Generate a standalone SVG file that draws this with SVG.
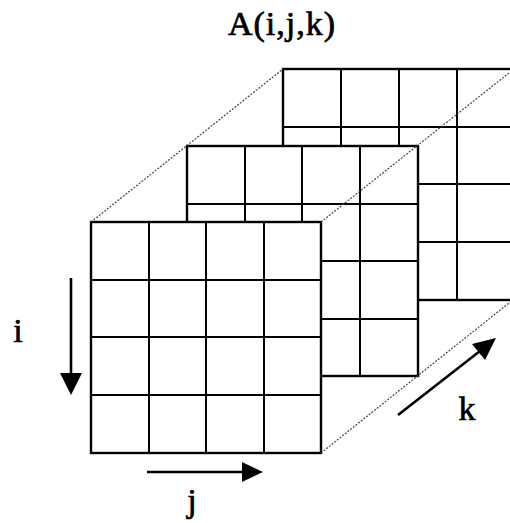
<svg xmlns="http://www.w3.org/2000/svg" width="510" height="523" viewBox="0 0 510 523">
<style>
.frame{fill:#fff;stroke:#000;stroke-width:2.4}
.grid{stroke:#000;stroke-width:2;fill:none}
.edge{stroke:#444;stroke-width:1.2;stroke-dasharray:2 1.4;fill:none}
.arrow{stroke:#000;stroke-width:2.6;fill:none}
.head{fill:#000;stroke:none}
.lbl{font-family:"Liberation Serif","Times New Roman",serif;fill:#000;stroke:#000;stroke-width:0.7}
</style>
<rect width="510" height="523" fill="#fff"/>
<text class="lbl" x="282" y="35" font-size="34" text-anchor="middle" letter-spacing="1">A(i,j,k)</text>
<g id="slab-back">
<rect class="frame" x="283" y="69" width="231" height="231"/>
<path class="grid" d="M341 69V300M399 69V300M457 69V300M283 127H514M283 184H514M283 242H514"/>
</g>
<g id="slab-middle">
<rect class="frame" x="187" y="146" width="231" height="230"/>
<path class="grid" d="M245 146V376M302 146V376M360 146V376M187 204H418M187 261H418M187 319H418"/>
</g>
<g id="slab-front">
<rect class="frame" x="91" y="222" width="230" height="231"/>
<path class="grid" d="M149 222V453M206 222V453M264 222V453M91 280H321M91 337H321M91 395H321"/>
</g>
<g id="connectors">
<path class="edge" d="M91 222L283 69"/>
<path class="edge" d="M321 222L514 69"/>
<path class="edge" d="M321 453L514 299"/>
<path class="arrow" d="M71 278V376"/>
<polygon class="head" points="60,373 82,373 71,395"/>
<path class="arrow" d="M147 472H245"/>
<polygon class="head" points="242,462 242,482 263,472"/>
<path class="arrow" d="M398 415L480 351"/>
<polygon class="head" points="485,360 472,344 496,338"/>
</g>
<text class="lbl" x="18" y="342" font-size="34" text-anchor="middle">i</text>
<text class="lbl" x="192" y="512" font-size="34" text-anchor="middle">j</text>
<text class="lbl" x="467" y="420" font-size="34" text-anchor="middle">k</text>
</svg>
